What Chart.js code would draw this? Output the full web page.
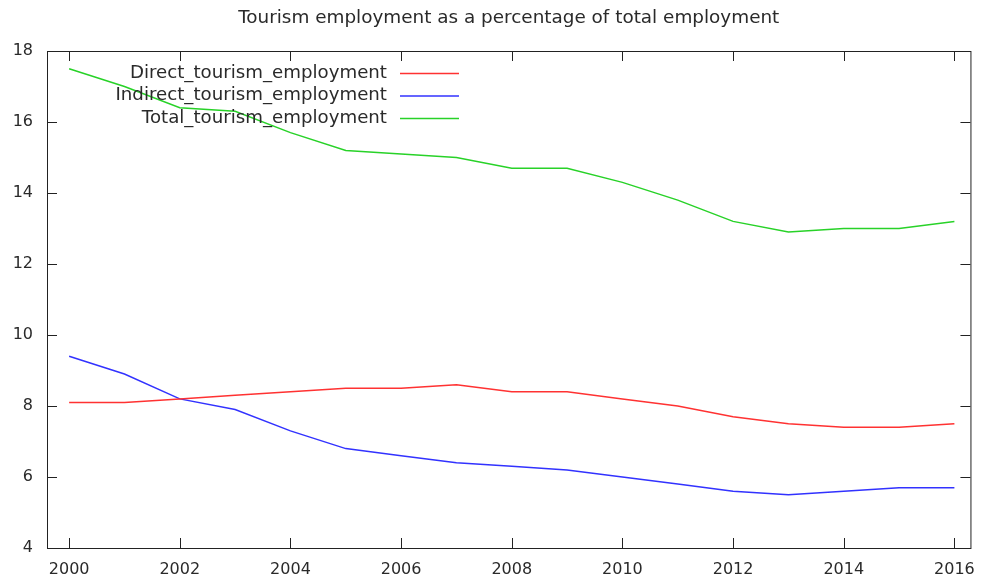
<!DOCTYPE html>
<html>
<head>
<meta charset="utf-8">
<script src="https://cdn.jsdelivr.net/npm/chart.js@4"></script>
<style>
  html, body { margin: 0; padding: 0; background: #fff; }
  #wrap { width: 987px; height: 583px; }
</style>
</head>
<body>
<div id="wrap"><canvas id="chart"></canvas></div>
<script>
// data
const years = [2000, 2001, 2002, 2003, 2004, 2005, 2006, 2007, 2008, 2009, 2010, 2011, 2012, 2013, 2014, 2015, 2016];
const direct = [8.1, 8.1, 8.2, 8.3, 8.4, 8.5, 8.5, 8.6, 8.4, 8.4, 8.2, 8.0, 7.7, 7.5, 7.4, 7.4, 7.5];
const indirect = [9.4, 8.9, 8.2, 7.9, 7.3, 6.8, 6.6, 6.4, 6.3, 6.2, 6.0, 5.8, 5.6, 5.5, 5.6, 5.7, 5.7];
const total = [17.5, 17.0, 16.4, 16.3, 15.7, 15.2, 15.1, 15.0, 14.7, 14.7, 14.3, 13.8, 13.2, 12.9, 13.0, 13.0, 13.2];
const xTicks = [2000, 2002, 2004, 2006, 2008, 2010, 2012, 2014, 2016];
const yTicks = [4, 6, 8, 10, 12, 14, 16, 18];
const title = 'Tourism employment as a percentage of total employment';

const FONT = 'DejaVu Sans';
const TEXT = '#2a2a2a';

function pts(vals) {
    return years.map((y, i) => ({ x: y, y: vals[i] }));
}

// gnuplot-like frame with inward ticks on all four sides, title centred on the plot
const framePlugin = {
    id: 'frame',
    afterDraw(chart) {
        const { ctx, chartArea: a, scales } = chart;
        ctx.save();
        ctx.strokeStyle = '#222';
        ctx.lineWidth = 1;
        ctx.strokeRect(a.left + 0.5, a.top + 0.5, a.right - a.left, a.bottom - a.top);
        ctx.beginPath();
        xTicks.forEach(v => {
            const x = Math.round(scales.x.getPixelForValue(v)) + 0.5;
            ctx.moveTo(x, a.bottom); ctx.lineTo(x, a.bottom - 10);
            ctx.moveTo(x, a.top); ctx.lineTo(x, a.top + 10);
        });
        yTicks.forEach(v => {
            const y = Math.round(scales.y.getPixelForValue(v)) + 0.5;
            ctx.moveTo(a.left, y); ctx.lineTo(a.left + 10, y);
            ctx.moveTo(a.right, y); ctx.lineTo(a.right - 10, y);
        });
        ctx.stroke();

        ctx.font = '18.4px "' + FONT + '"';
        ctx.fillStyle = TEXT;
        ctx.textAlign = 'center';
        ctx.textBaseline = 'middle';
        ctx.fillText(title, (a.left + a.right) / 2, 18);
        ctx.restore();
    }
};

// legend inside the plot: right-aligned text followed by a line sample
const keyPlugin = {
    id: 'key',
    afterDatasetsDraw(chart) {
        const ctx = chart.ctx;
        ctx.save();
        ctx.font = '18.2px "' + FONT + '"';
        ctx.textAlign = 'right';
        ctx.textBaseline = 'middle';
        chart.data.datasets.forEach((ds, i) => {
            const y = 73 + i * 22.5;
            ctx.fillStyle = TEXT;
            ctx.fillText(ds.label, 387, y);
            ctx.strokeStyle = ds.borderColor;
            ctx.lineWidth = 1.5;
            ctx.beginPath();
            ctx.moveTo(400, y + 0.5);
            ctx.lineTo(459, y + 0.5);
            ctx.stroke();
        });
        ctx.restore();
    }
};

new Chart(document.getElementById('chart'), {
    type: 'line',
    data: {
        datasets: [
            { label: 'Direct_tourism_employment', data: pts(direct), borderColor: 'rgb(255,50,50)' },
            { label: 'Indirect_tourism_employment', data: pts(indirect), borderColor: 'rgb(50,50,255)' },
            { label: 'Total_tourism_employment', data: pts(total), borderColor: 'rgb(40,210,40)' }
        ]
    },
    options: {
        responsive: true,
        maintainAspectRatio: false,
        animation: false,
        elements: {
            line: { borderWidth: 1.5, tension: 0 },
            point: { radius: 0 }
        },
        layout: { padding: { left: 0, right: 14, top: 51, bottom: 0 } },
        plugins: {
            legend: { display: false },
            tooltip: { enabled: false },
            title: { display: false }
        },
        scales: {
            x: {
                type: 'linear',
                min: 1999.6,
                max: 2016.29,
                afterBuildTicks: s => { s.ticks = xTicks.map(v => ({ value: v })); },
                afterFit: s => { s.height = 35; },
                grid: { display: false, drawTicks: false },
                border: { display: false },
                ticks: {
                    padding: 12,
                    color: TEXT,
                    maxRotation: 0,
                    autoSkip: false,
                    font: { family: FONT, size: 16 },
                    callback: v => String(v)
                }
            },
            y: {
                min: 4,
                max: 18,
                afterBuildTicks: s => { s.ticks = yTicks.map(v => ({ value: v })); },
                afterFit: s => { s.width = 47; },
                grid: { display: false, drawTicks: false },
                border: { display: false },
                ticks: {
                    padding: 14,
                    color: TEXT,
                    font: { family: FONT, size: 16 }
                }
            }
        }
    },
    plugins: [framePlugin, keyPlugin]
});
</script>
</body>
</html>
